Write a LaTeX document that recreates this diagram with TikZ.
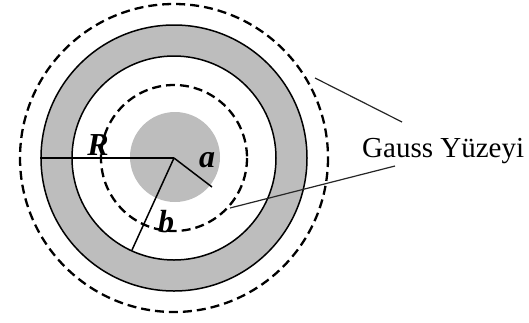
\documentclass[tikz,border=0pt]{standalone}
\usepackage{fontspec}
\setmainfont{Liberation Serif}
\begin{document}
\begin{tikzpicture}[x=1pt,y=-1pt,
  gauss/.style={line width=2.3pt,dash pattern=on 9pt off 5pt},
  shellfill/.style={fill=black!26},
  edge/.style={line width=1.5pt},
  lbl/.style={font=\fontsize{32}{34}\selectfont\bfseries\itshape,inner sep=0pt,anchor=base},
  leader/.style={line width=1.2pt,black!85}]
\useasboundingbox (0,0) rectangle (529,322);
\coordinate (O) at (174,158);
% shell
\fill[shellfill,even odd rule] (O) circle[radius=133] (O) circle[radius=102];
\draw[edge] (O) circle[radius=133];
\draw[edge] (O) circle[radius=102];
% inner disk
\fill[black!26] (175,157) circle[radius=45];
% gauss surfaces
\draw[gauss] (O) circle[radius=154];
\draw[gauss] (O) circle[radius=73];
% radii
\coordinate (Rend) at (40,158);
\coordinate (bend) at (132,250);
\coordinate (aend) at (212,187);
\draw[edge] (O) -- (Rend);
\draw[edge] (O) -- (bend);
\draw[edge] (O) -- (aend);
\node[lbl] (R) at (98,155) {R};
\node[lbl] (a) at (207,167) {a};
\node[lbl] (b) at (166,232) {b};
% label
\node[font=\fontsize{29}{31}\selectfont,inner sep=0pt,anchor=base west] (gs) at (362,157) {Gauss Yüzeyi};
\coordinate (u1) at (315,78);
\coordinate (u2) at (402,122);
\coordinate (l1) at (230,208);
\coordinate (l2) at (395,166);
\draw[leader] (u1) -- (u2);
\draw[leader] (l1) -- (l2);
\end{tikzpicture}
\end{document}
